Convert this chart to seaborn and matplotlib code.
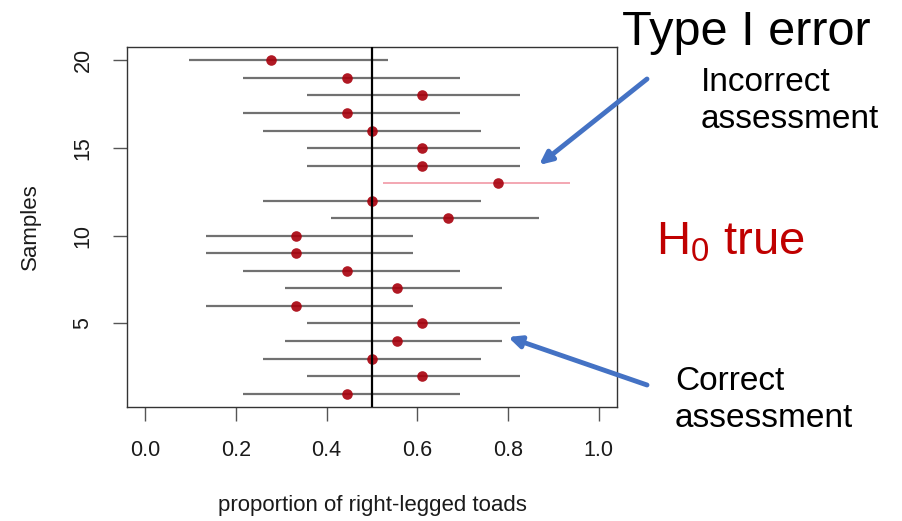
"""
Confidence intervals for 20 samples of toads, with H0 (p = 0.5) true.
One interval misses 0.5: a Type I error.
"""
import pandas as pd
import matplotlib
matplotlib.use("Agg")
import matplotlib.pyplot as plt
import seaborn as sns

# sample number, estimated proportion and 95% CI bounds
samples = list(range(1, 21))
p_hat = [0.444, 0.611, 0.500, 0.556, 0.611, 0.333, 0.556, 0.444, 0.333, 0.333,
         0.667, 0.500, 0.778, 0.611, 0.611, 0.500, 0.444, 0.611, 0.444, 0.278]
ci_low = [0.215, 0.357, 0.260, 0.308, 0.357, 0.134, 0.308, 0.215, 0.134, 0.134,
          0.410, 0.260, 0.524, 0.357, 0.357, 0.260, 0.215, 0.357, 0.215, 0.097]
ci_high = [0.694, 0.827, 0.741, 0.786, 0.827, 0.591, 0.786, 0.694, 0.591, 0.591,
           0.868, 0.741, 0.937, 0.827, 0.827, 0.741, 0.694, 0.827, 0.694, 0.536]
null_p = 0.5

x_ticks = [0.0, 0.2, 0.4, 0.6, 0.8, 1.0]
y_ticks = [5, 10, 15, 20]

df = pd.DataFrame({"sample": samples, "p_hat": p_hat, "low": ci_low, "high": ci_high})
df["misses"] = (df["low"] > null_p) | (df["high"] < null_p)

sns.set_style("ticks")
plt.rcParams["font.family"] = ["Liberation Sans", "DejaVu Sans"]
plt.rcParams["text.color"] = "black"

W, H = 903, 521
fig = plt.figure(figsize=(W / 100, H / 100), dpi=100)
ax = fig.add_axes([127 / W, 1 - 407 / H, 490 / W, 360 / H])

# interval lines: grey if they cover 0.5, pink if they miss it
hit = df[~df["misses"]]
miss = df[df["misses"]]
ax.hlines(hit["sample"], hit["low"], hit["high"], color="#4d4d4d", alpha=0.8, lw=1.6)
ax.hlines(miss["sample"], miss["low"], miss["high"], color="#f0909e", alpha=0.85, lw=1.3)

sns.scatterplot(data=df, x="p_hat", y="sample", ax=ax, color="#a8000c",
                alpha=0.9, s=58, linewidth=0, zorder=3)
ax.axvline(null_p, color="black", lw=1.6, zorder=4)

ax.set_xlim(-0.04, 1.04)
ax.set_ylim(0.24, 20.76)
ax.set_xticks(x_ticks)
ax.set_xticklabels([f"{t:.1f}" for t in x_ticks])
ax.set_yticks(y_ticks)
ax.set_yticklabels([str(t) for t in y_ticks], rotation=90, va="center")
ax.tick_params(axis="both", length=10, width=1, color="#555555", pad=14,
               labelsize=15.5, labelcolor="#1a1a1a")
for sp in ax.spines.values():
    sp.set_color("#333333")
    sp.set_linewidth(1.0)

ax.set_xlabel("proportion of right-legged toads", fontsize=16, color="#1a1a1a")
ax.xaxis.label.set_va("center")
ax.xaxis.set_label_coords(0.5, (407 - 506) / 360)
ax.set_ylabel("Samples", fontsize=16, color="#1a1a1a")
ax.yaxis.label.set_va("center")
ax.yaxis.set_label_coords((30 - 127) / 490, 0.5)

# annotations (multi-line texts are placed by the baseline of their last line)
fig.text(622 / W, 1 - 45 / H, "Type I error", fontsize=35, ha="left", va="baseline")
fig.text(701 / W, 1 - 128 / H, "Incorrect\nassessment", fontsize=24, ha="left",
         va="baseline", linespacing=1.27)
fig.text(656 / W, 1 - 255 / H, r"$\mathregular{H_0}$ true", fontsize=34,
         ha="left", va="baseline", color="#c00000")
fig.text(675 / W, 1 - 427 / H, "Correct\nassessment", fontsize=24, ha="left",
         va="baseline", linespacing=1.27)

arrow = dict(arrowstyle="-|>,head_length=0.75,head_width=0.35", lw=3.5,
             color="#4472c4", shrinkA=0, shrinkB=0)
ax.annotate("", xy=(539, H - 165), xytext=(647, H - 79), xycoords="figure pixels",
            textcoords="figure pixels", arrowprops=arrow, annotation_clip=False)
ax.annotate("", xy=(508, H - 337), xytext=(647, H - 385), xycoords="figure pixels",
            textcoords="figure pixels", arrowprops=arrow, annotation_clip=False)

fig.savefig("out.png", dpi=100)
plt.close(fig)
